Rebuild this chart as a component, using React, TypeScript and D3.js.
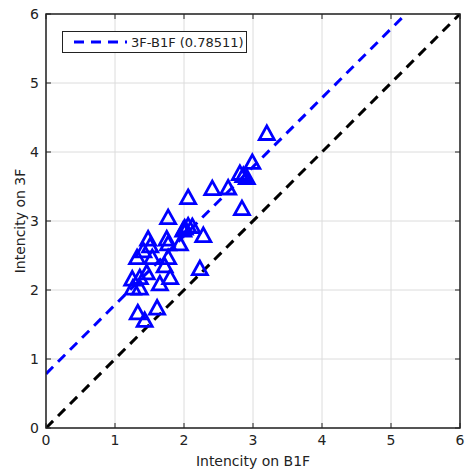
import React from "react";
import * as d3 from "d3";

const xB1F = [3.2, 2.99, 2.81, 2.86, 2.91, 2.64, 2.41, 2.84, 2.06, 1.77, 2.01, 2.06, 2.12, 1.99, 2.28, 1.48, 1.75, 1.77, 1.94, 1.51, 1.41, 1.32, 1.54, 1.77, 1.72, 1.46, 1.8, 1.65, 1.25, 1.36, 1.26, 1.36, 2.23, 1.61, 1.33, 1.43];
const y3F = [4.28, 3.86, 3.7, 3.67, 3.64, 3.49, 3.48, 3.19, 3.35, 3.06, 2.91, 2.94, 2.93, 2.88, 2.8, 2.75, 2.75, 2.68, 2.68, 2.65, 2.58, 2.48, 2.48, 2.48, 2.36, 2.26, 2.19, 2.1, 2.17, 2.19, 2.04, 2.04, 2.32, 1.75, 1.68, 1.57];
const ticks = [0, 1, 2, 3, 4, 5, 6];
const fitIntercept = 0.78511;
const fitSlope = 1;
const legendLabel = "3F-B1F (0.78511)";
const xLabel = "Intencity on B1F";
const yLabel = "Intencity on 3F";

export default function App() {
  const W = 465, H = 470;
  const L = 46, R = 460, T = 14, B = 428;
  const x = d3.scaleLinear().domain([0, 6]).range([L, R]);
  const y = d3.scaleLinear().domain([0, 6]).range([B, T]);
  const font = "'DejaVu Sans', sans-serif";
  const tri = (cx: number, cy: number) => {
    const w = 7.5, h = 6.8;
    return `M${cx},${cy - h}L${cx + w},${cy + h}L${cx - w},${cy + h}Z`;
  };
  const fx0 = 0, fy0 = fitIntercept;
  const fx1 = (6 - fitIntercept) / fitSlope, fy1 = 6;
  return (
    <svg width={W} height={H} style={{ position: "absolute", left: 0, top: 0 }}>
      <rect width={W} height={H} fill="#fff" />
      <defs>
        <clipPath id="plot">
          <rect x={L} y={T} width={R - L} height={B - T} />
        </clipPath>
      </defs>
      {ticks.map((t) => (
        <g key={"g" + t}>
          <line x1={x(t)} x2={x(t)} y1={T} y2={B} stroke="#dcdcdc" strokeWidth={1} />
          <line x1={L} x2={R} y1={y(t)} y2={y(t)} stroke="#dcdcdc" strokeWidth={1} />
        </g>
      ))}
      <g clipPath="url(#plot)">
        <line x1={x(0)} y1={y(0)} x2={x(6)} y2={y(6)} stroke="#000" strokeWidth={3} strokeDasharray="10,7" />
        <line x1={x(fx0)} y1={y(fy0)} x2={x(fx1)} y2={y(fy1)} stroke="#0000ff" strokeWidth={3} strokeDasharray="10,7" />
        {xB1F.map((v, i) => (
          <path key={i} d={tri(x(v), y(y3F[i]))} fill="none" stroke="#0000ff" strokeWidth={2.8} strokeLinejoin="miter" />
        ))}
      </g>
      {ticks.map((t) => (
        <g key={"t" + t}>
          <line x1={x(t)} x2={x(t)} y1={B} y2={B - 5} stroke="#222" strokeWidth={1} />
          <line x1={x(t)} x2={x(t)} y1={T} y2={T + 5} stroke="#222" strokeWidth={1} />
          <line x1={L} x2={L + 5} y1={y(t)} y2={y(t)} stroke="#222" strokeWidth={1} />
          <line x1={R} x2={R - 5} y1={y(t)} y2={y(t)} stroke="#222" strokeWidth={1} />
          <text x={x(t)} y={B + 17} textAnchor="middle" fontSize={14} fontFamily={font} fill="#222">{t}</text>
          <text x={L - 7} y={y(t) + 5} textAnchor="end" fontSize={14} fontFamily={font} fill="#222">{t}</text>
        </g>
      ))}
      <rect x={L} y={T} width={R - L} height={B - T} fill="none" stroke="#222" strokeWidth={1.5} />
      <text x={(L + R) / 2} y={466} textAnchor="middle" fontSize={14} fontFamily={font} fill="#222">{xLabel}</text>
      <text transform={`translate(25,${(T + B) / 2}) rotate(-90)`} textAnchor="middle" fontSize={14} fontFamily={font} fill="#222">{yLabel}</text>
      <g>
        <rect x={62.5} y={31.5} width={184} height={21} fill="#fff" stroke="#222" strokeWidth={1} />
        <line x1={74} x2={127} y1={42} y2={42} stroke="#0000ff" strokeWidth={3} strokeDasharray="10,7" />
        <text x={131} y={47} fontSize={13} fontFamily={font} fill="#222">{legendLabel}</text>
      </g>
    </svg>
  );
}
